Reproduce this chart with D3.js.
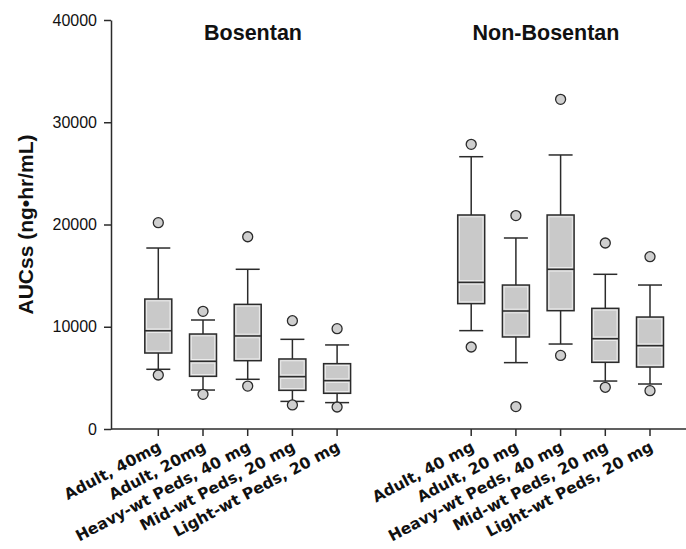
<!DOCTYPE html>
<html>
<head>
<meta charset="UTF-8">
<script src="https://d3js.org/d3.v7.min.js"></script>
<style>
  body { margin: 0; background: #fff; }
  svg { font-family: Arial, 'Liberation Sans', sans-serif; }
</style>
</head>
<body>
<svg id="chart" width="686" height="549"></svg>
<script>
  // group titles and categories
  const groups = ["Bosentan", "Non-Bosentan"];
  const bosentanLabels = ["Adult, 40mg", "Adult, 20mg", "Heavy-wt Peds, 40 mg", "Mid-wt Peds, 20 mg", "Light-wt Peds, 20 mg"];
  const nonBosentanLabels = ["Adult, 40 mg", "Adult, 20 mg", "Heavy-wt Peds, 40 mg", "Mid-wt Peds, 20 mg", "Light-wt Peds, 20 mg"];

  // box stats: [lowOutlier, whiskerLow, q1, median, q3, whiskerHigh, highOutlier]
  const bosentanStats = [
    [5280, 5840, 7430, 9610, 12710, 17700, 20180],
    [3390, 3810, 5150, 6620, 9290, 10660, 11510],
    [4200, 4860, 6680, 9100, 12190, 15620, 18800],
    [2350, 2700, 3780, 5120, 6850, 8770, 10590],
    [2150, 2580, 3490, 4730, 6390, 8220, 9810]
  ];
  const nonBosentanStats = [
    [8020, 9620, 12260, 14340, 20930, 26630, 27840],
    [2190, 6490, 9000, 11540, 14080, 18680, 20870],
    [7200, 8310, 11570, 15620, 20930, 26800, 32240],
    [4080, 4690, 6520, 8830, 11800, 15130, 18190],
    [3750, 4400, 6060, 8150, 10950, 14080, 16850]
  ];
  const yTicks = [0, 10000, 20000, 30000, 40000];

  const rows = [];
  bosentanStats.forEach((s, i) => rows.push({ pos: i, label: bosentanLabels[i], s }));
  nonBosentanStats.forEach((s, i) => rows.push({ pos: i + 7, label: nonBosentanLabels[i], s }));

  const svg = d3.select("#chart");
  const plotLeft = 111, plotRight = 686, plotTop = 20, plotBottom = 429;

  const x = d3.scaleLinear().domain([0, 11]).range([158.3, 650]);
  const y = d3.scaleLinear().domain([0, 40000]).range([plotBottom, plotTop]);

  const ink = "#2b2b2b";
  const boxW = 27, capW = 24;

  // y axis
  const yAxis = svg.append("g")
    .attr("transform", `translate(${plotLeft},0)`)
    .call(d3.axisLeft(y).tickValues(yTicks).tickSize(7).tickSizeOuter(0).tickFormat(d3.format("d")));
  yAxis.select(".domain").attr("stroke", ink).attr("stroke-width", 1.5);
  yAxis.selectAll(".tick line").attr("stroke", ink).attr("stroke-width", 1.5);
  yAxis.selectAll(".tick text").attr("font-size", 16).attr("fill", "#111").attr("x", -14)
    .attr("font-family", "Arial, 'Liberation Sans', sans-serif");

  // x axis
  svg.append("line")
    .attr("x1", plotLeft).attr("x2", plotRight).attr("y1", plotBottom).attr("y2", plotBottom)
    .attr("stroke", ink).attr("stroke-width", 1.5);
  svg.selectAll(".xtick").data(rows).join("line")
    .attr("class", "xtick")
    .attr("x1", d => x(d.pos)).attr("x2", d => x(d.pos))
    .attr("y1", plotBottom).attr("y2", plotBottom + 7)
    .attr("stroke", ink).attr("stroke-width", 1.5);
  svg.selectAll(".xlabel").data(rows).join("text")
    .attr("class", "xlabel")
    .attr("transform", d => `translate(${x(d.pos) + 4},${plotBottom + 21}) rotate(-28)`)
    .attr("text-anchor", "end")
    .attr("font-family", "'DejaVu Sans', Verdana, sans-serif")
    .attr("font-size", 15.5)
    .attr("font-weight", "bold")
    .attr("fill", "#111")
    .text(d => d.label);

  // boxes
  const g = svg.selectAll(".box").data(rows).join("g")
    .attr("class", "box")
    .attr("transform", d => `translate(${x(d.pos)},0)`);

  // whiskers
  g.append("line")
    .attr("y1", d => y(d.s[4])).attr("y2", d => y(d.s[5]))
    .attr("stroke", ink).attr("stroke-width", 1.5);
  g.append("line")
    .attr("y1", d => y(d.s[2])).attr("y2", d => y(d.s[1]))
    .attr("stroke", ink).attr("stroke-width", 1.5);
  g.append("line")
    .attr("x1", -capW / 2).attr("x2", capW / 2)
    .attr("y1", d => y(d.s[5])).attr("y2", d => y(d.s[5]))
    .attr("stroke", ink).attr("stroke-width", 1.5);
  g.append("line")
    .attr("x1", -capW / 2).attr("x2", capW / 2)
    .attr("y1", d => y(d.s[1])).attr("y2", d => y(d.s[1]))
    .attr("stroke", ink).attr("stroke-width", 1.5);

  // box body
  g.append("rect")
    .attr("x", -boxW / 2).attr("width", boxW)
    .attr("y", d => y(d.s[4])).attr("height", d => y(d.s[2]) - y(d.s[4]))
    .attr("fill", "#c9c9c9").attr("stroke", ink).attr("stroke-width", 1.5);
  g.append("rect")
    .attr("x", -boxW / 2 + 1.8).attr("width", boxW - 3.6)
    .attr("y", d => y(d.s[4]) + 1.8).attr("height", d => y(d.s[3]) - y(d.s[4]) - 3.6)
    .attr("fill", "none").attr("stroke", "#ececec").attr("stroke-width", 1);
  g.append("rect")
    .attr("x", -boxW / 2 + 1.8).attr("width", boxW - 3.6)
    .attr("y", d => y(d.s[3]) + 1.8).attr("height", d => y(d.s[2]) - y(d.s[3]) - 3.6)
    .attr("fill", "none").attr("stroke", "#ececec").attr("stroke-width", 1);
  g.append("line")
    .attr("x1", -boxW / 2).attr("x2", boxW / 2)
    .attr("y1", d => y(d.s[3])).attr("y2", d => y(d.s[3]))
    .attr("stroke", ink).attr("stroke-width", 1.5);

  // outliers
  g.selectAll("circle").data(d => [d.s[0], d.s[6]]).join("circle")
    .attr("cy", v => y(v)).attr("r", 5)
    .attr("fill", "#cfcfcf").attr("stroke", ink).attr("stroke-width", 1.3);

  // group titles
  svg.selectAll(".gtitle").data(groups).join("text")
    .attr("class", "gtitle")
    .attr("x", (d, i) => i === 0 ? 253 : 546)
    .attr("y", 40)
    .attr("text-anchor", "middle")
    .attr("font-size", 21.5)
    .attr("font-weight", "bold")
    .attr("fill", "#111")
    .text(d => d);

  // y label
  svg.append("text")
    .attr("transform", `translate(33,224.5) rotate(-90)`)
    .attr("text-anchor", "middle")
    .attr("font-size", 21)
    .attr("font-weight", "bold")
    .attr("fill", "#111")
    .text("AUCss (ng•hr/mL)");
</script>
</body>
</html>
